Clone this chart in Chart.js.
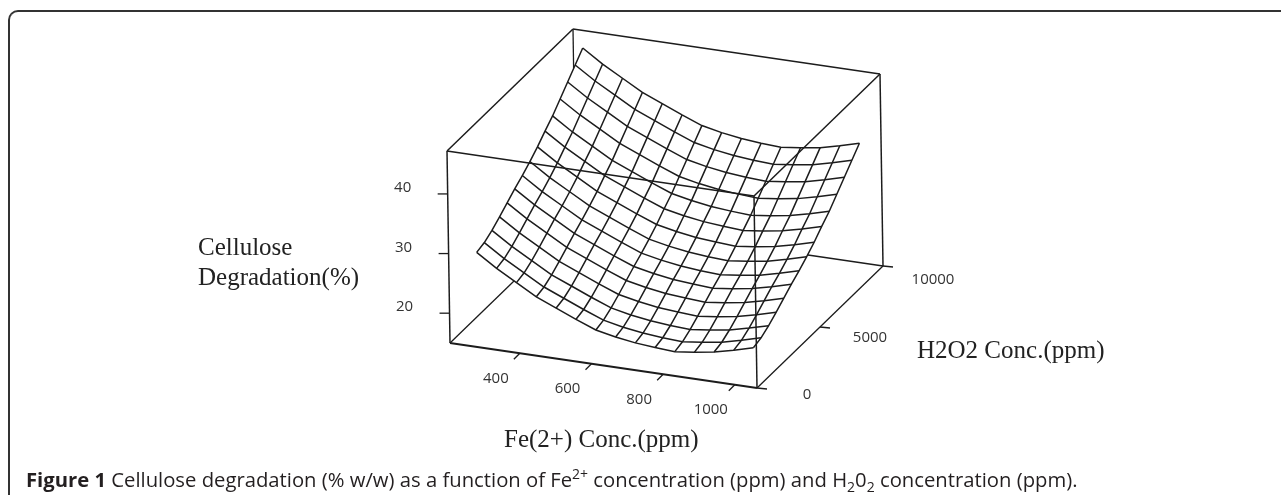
<!DOCTYPE html>
<html>
<head>
<meta charset="utf-8">
<script src="https://cdn.jsdelivr.net/npm/chart.js@4"></script>
<style>
    html, body { margin: 0; padding: 0; width: 1281px; height: 495px; overflow: hidden; background: #fff; }
    #frame {
        position: absolute; left: 8px; top: 10px; width: 1400px; height: 600px;
        border-top: 2px solid #333; border-left: 2px solid #333; border-top-left-radius: 10px;
    }
    #chart { position: absolute; left: 0; top: 0; }
    #caption {
        position: absolute; left: 26px; top: 466px; white-space: nowrap;
        font: 20.25px "Open Sans", sans-serif; color: #231f20; line-height: 26px;
    }
    #caption sup, #caption sub { font-size: 14px; line-height: 0; }
</style>
</head>
<body>
<div id="frame"></div>
<canvas id="chart" width="1281" height="495"></canvas>
<div id="caption"><b>Figure 1</b> Cellulose degradation (% w/w) as a function of Fe<sup>2+</sup> concentration (ppm) and H<sub>2</sub>0<sub>2</sub> concentration (ppm).</div>
<script>
const feValues = [255, 310, 365, 420, 475, 530, 585, 640, 695, 750, 805, 860, 915, 970, 1025];
const h2o2Values = [800, 1410, 2020, 2630, 3240, 3850, 4460, 5070, 5680, 6290, 6900, 7510, 8120, 8730, 9340];

// one row per H2O2 value, one column per Fe value
const degradation = [
    [29.0, 26.8, 24.9, 23.0, 21.6, 20.2, 18.9, 18.2, 17.7, 17.4, 17.2, 17.6, 18.1, 18.9, 19.8],
    [29.4, 27.2, 25.3, 23.4, 22.0, 20.6, 19.3, 18.6, 18.1, 17.8, 17.6, 18.0, 18.5, 19.3, 20.2],
    [30.2, 28.0, 26.1, 24.2, 22.8, 21.4, 20.1, 19.4, 18.9, 18.6, 18.4, 18.8, 19.3, 20.1, 21.0],
    [31.2, 29.0, 27.1, 25.2, 23.8, 22.4, 21.1, 20.4, 19.9, 19.6, 19.4, 19.8, 20.3, 21.1, 22.0],
    [32.3, 30.1, 28.2, 26.3, 24.9, 23.5, 22.2, 21.5, 21.0, 20.7, 20.5, 20.9, 21.4, 22.2, 23.1],
    [33.4, 31.2, 29.3, 27.4, 26.0, 24.6, 23.3, 22.6, 22.1, 21.8, 21.6, 22.0, 22.5, 23.3, 24.2],
    [34.4, 32.2, 30.3, 28.4, 27.0, 25.6, 24.3, 23.6, 23.1, 22.8, 22.6, 23.0, 23.5, 24.3, 25.2],
    [35.5, 33.3, 31.4, 29.5, 28.1, 26.7, 25.4, 24.7, 24.2, 23.9, 23.7, 24.1, 24.6, 25.4, 26.3],
    [36.7, 34.5, 32.6, 30.7, 29.3, 27.9, 26.6, 25.9, 25.4, 25.1, 24.9, 25.3, 25.8, 26.6, 27.5],
    [38.1, 35.9, 34.0, 32.1, 30.7, 29.3, 28.0, 27.3, 26.8, 26.5, 26.3, 26.7, 27.2, 28.0, 28.9],
    [39.4, 37.2, 35.3, 33.4, 32.0, 30.6, 29.3, 28.6, 28.1, 27.8, 27.6, 28.0, 28.5, 29.3, 30.2],
    [41.0, 38.8, 36.9, 35.0, 33.6, 32.2, 30.9, 30.2, 29.7, 29.4, 29.2, 29.6, 30.1, 30.9, 31.8],
    [42.6, 40.4, 38.5, 36.6, 35.2, 33.8, 32.5, 31.8, 31.3, 31.0, 30.8, 31.2, 31.7, 32.5, 33.4],
    [44.2, 42.0, 40.1, 38.2, 36.8, 35.4, 34.1, 33.4, 32.9, 32.6, 32.4, 32.8, 33.3, 34.1, 35.0],
    [45.8, 43.6, 41.7, 39.8, 38.4, 37.0, 35.7, 35.0, 34.5, 34.2, 34.0, 34.4, 34.9, 35.7, 36.6]
];

const feRange = [205, 1062];
const h2o2Range = [0, 10000];
const degradationRange = [15, 47.2];

const feTicks = [400, 600, 800, 1000];
const h2o2Ticks = [0, 5000, 10000];
const degradationTicks = [20, 30, 40];

// view of the box: screen position of the low corner and the three box edges
const view = {
    origin: [450, 343],
    fe: [307, 45],
    h2o2: [126, -122],
    deg: [-3, -192]
};

function project(fe, h2o2, deg) {
    const u = (fe - feRange[0]) / (feRange[1] - feRange[0]);
    const v = (h2o2 - h2o2Range[0]) / (h2o2Range[1] - h2o2Range[0]);
    const w = (deg - degradationRange[0]) / (degradationRange[1] - degradationRange[0]);
    return {
        x: view.origin[0] + u * view.fe[0] + v * view.h2o2[0] + w * view.deg[0],
        y: view.origin[1] + u * view.fe[1] + v * view.h2o2[1] + w * view.deg[1]
    };
}

function corner(i, j, k) {
    return project(feRange[i], h2o2Range[j], degradationRange[k]);
}

function lineSet(data, width, order) {
    return {
        data,
        showLine: true,
        borderColor: '#1c1c1c',
        borderWidth: width,
        pointRadius: 0,
        tension: 0,
        fill: false,
        order
    };
}

function shifted(p, dx, dy) {
    return { x: p.x + dx, y: p.y + dy };
}

const datasets = [];

// box edges behind the surface
datasets.push(lineSet([corner(0, 0, 0), corner(0, 1, 0)], 1.3, 5));
datasets.push(lineSet([corner(0, 1, 0), corner(1, 1, 0)], 1.3, 5));
datasets.push(lineSet([corner(0, 1, 1), corner(0, 1, 0)], 1.3, 5));

// white sheet of the surface hides them
const rowLine = j => feValues.map((fe, i) => project(fe, h2o2Values[j], degradation[j][i]));
const colLine = i => h2o2Values.map((h, j) => project(feValues[i], h, degradation[j][i]));
const last = feValues.length - 1;
const outline = [...rowLine(0), ...colLine(last), ...rowLine(last).reverse(), ...colLine(0).reverse()];
datasets.push({
    data: outline,
    showLine: true,
    borderWidth: 0,
    borderColor: 'rgba(0,0,0,0)',
    backgroundColor: '#ffffff',
    pointRadius: 0,
    fill: 'shape',
    order: 4
});

// wireframe
h2o2Values.forEach((h, j) => datasets.push(lineSet(rowLine(j), 1.5, 3)));
feValues.forEach((fe, i) => datasets.push(lineSet(colLine(i), 1.5, 3)));

// box edges in front
[
    [[0, 0, 1], [0, 1, 1]],
    [[0, 1, 1], [1, 1, 1]],
    [[1, 1, 1], [1, 0, 1]],
    [[0, 0, 1], [1, 0, 1]],
    [[0, 0, 1], [0, 0, 0]],
    [[1, 0, 1], [1, 0, 0]],
    [[1, 1, 1], [1, 1, 0]]
].forEach(([a, b]) => datasets.push(lineSet([corner(...a), corner(...b)], 1.5, 2)));
datasets.push(lineSet([corner(0, 0, 0), corner(1, 0, 0)], 1.8, 2));
datasets.push(lineSet([corner(1, 0, 0), corner(1, 1, 0)], 1.3, 2));

// tick marks
degradationTicks.forEach(d => {
    const p = project(feRange[0], h2o2Range[0], d);
    datasets.push(lineSet([p, shifted(p, -10, 0)], 1.3, 1));
});
feTicks.forEach(fe => {
    const p = project(fe, h2o2Range[0], degradationRange[0]);
    datasets.push(lineSet([p, shifted(p, -6, 6)], 1.3, 1));
});
h2o2Ticks.forEach(h => {
    const p = project(feRange[1], h, degradationRange[0]);
    datasets.push(lineSet([p, shifted(p, 10, 1)], 1.3, 1));
});

const textPlugin = {
    id: 'surfaceText',
    afterDraw(chart) {
        const { ctx, scales } = chart;
        const put = (text, x, y, font, color, align) => {
            ctx.font = font;
            ctx.fillStyle = color;
            ctx.textAlign = align;
            ctx.textBaseline = 'middle';
            ctx.fillText(text, scales.x.getPixelForValue(x), scales.y.getPixelForValue(y));
        };
        const tickFont = '15px "Open Sans", sans-serif';
        const titleFont = '25px "Liberation Serif", serif';
        ctx.save();
        degradationTicks.forEach(d => {
            const p = project(feRange[0], h2o2Range[0], d);
            put(String(d), p.x - 45, p.y - 6, tickFont, '#333', 'center');
        });
        feTicks.forEach(fe => {
            const p = project(fe, h2o2Range[0], degradationRange[0]);
            put(String(fe), p.x - 24, p.y + 25, tickFont, '#333', 'center');
        });
        h2o2Ticks.forEach(h => {
            const p = project(feRange[1], h, degradationRange[0]);
            put(String(h), p.x + 50, p.y + 7 + h / 10000 * 7, tickFont, '#333', 'center');
        });
        put('Cellulose', 198, 248, titleFont, '#222', 'left');
        put('Degradation(%)', 198, 278, titleFont, '#222', 'left');
        put('H2O2 Conc.(ppm)', 917, 351, titleFont, '#222', 'left');
        put('Fe(2+) Conc.(ppm)', 504, 440, titleFont, '#222', 'left');
        ctx.restore();
    }
};

new Chart(document.getElementById('chart').getContext('2d'), {
    type: 'scatter',
    data: { datasets },
    options: {
        responsive: false,
        animation: false,
        layout: { padding: 0 },
        plugins: { legend: { display: false }, tooltip: { enabled: false } },
        scales: {
            x: { type: 'linear', min: 0, max: 1281, display: false },
            y: { type: 'linear', min: 0, max: 495, reverse: true, display: false }
        }
    },
    plugins: [textPlugin]
});
</script>
</body>
</html>
